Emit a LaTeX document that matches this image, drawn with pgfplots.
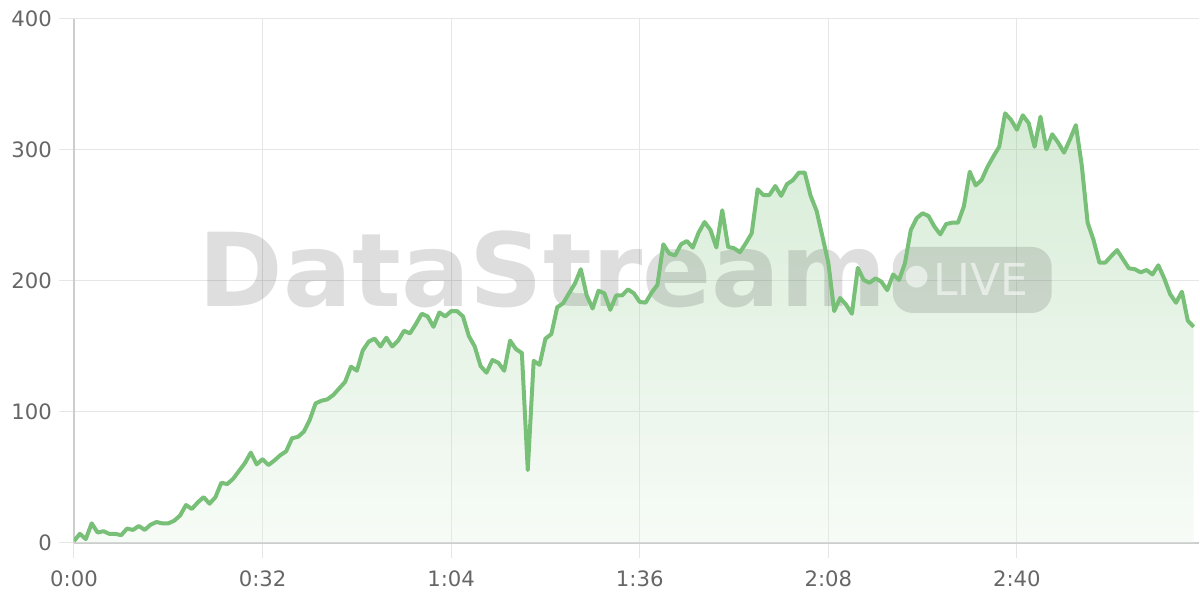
\documentclass[border=0pt]{standalone}
\usepackage{pgfplots}
\pgfplotsset{compat=1.18}
\usepackage{fontspec}
\setmainfont{DejaVu Sans}
\definecolor{linegreen}{RGB}{120,191,120}
\definecolor{gridc}{RGB}{230,230,230}
\definecolor{axisc}{RGB}{205,205,205}
\definecolor{tickc}{RGB}{102,102,102}
\pgfplotstableread{
t v
0 1.5
1 7
2 3
3 15
4 8
5 9
6 7
7 7
8 6
9 11
10 10
11 13
12 10
13 14
14 16
15 15
16 15
17 17
18 21
19 29
20 26
21 31
22 35
23 30
24 35
25 46
26 45
27 49
28 55
29 61
30 69
31 60
32 64
33 59.5
34 63
35 67
36 70
37 80
38 81
39 85
40 94
41 106.6
42 108.6
43 109.7
44 113
45 118
46 123
47 134.6
48 131.5
49 147
50 153.7
51 156
52 150
53 156.7
54 150
55 154.5
56 162
57 160
58 167
59 175
60 173
61 165
62 176
63 173
64 177
65 177
66 173
67 158
68 150
69 135
70 130
71 139.7
72 137.6
73 131.5
74 154.5
75 148
76 145
77 55.7
78 139
79 136
80 156
81 159.5
82 180
83 183
84 190.6
85 198
86 209
87 189
88 179
89 192.6
90 190.6
91 178
92 189
93 189
94 193.6
95 190.6
96 184
97 183.5
98 191
99 197
100 228
101 221
102 219.5
103 228
104 230.5
105 225.5
106 237
107 245
108 239
109 225.6
110 254
111 226
112 225
113 222
114 228.8
115 236.4
116 270
117 265.6
118 265.6
119 272.5
120 265
121 274
122 277
123 282.7
124 282.7
125 265
126 253.7
127 234
128 214
129 177
130 187
131 182
132 175
133 210
134 200.8
135 198.7
136 202
137 199.5
138 193
139 205
140 200.8
141 213.5
142 239
143 248
144 251.7
145 249.6
146 241.5
147 235.6
148 243.5
149 244.5
150 244.5
151 257
152 283.4
153 273
154 277
155 287
156 295
157 302.5
158 328
159 323
160 315.5
161 326.5
162 320.5
163 302.5
164 325.4
165 300.5
166 312
167 305.6
168 298
169 308
170 319
171 288.5
172 244.5
173 231.3
174 214
175 214
176 219
177 223.6
178 216.6
179 209.7
180 209
181 206.6
182 208.4
183 205
184 212
185 202
186 190
187 183.4
188 191.8
189 169.7
190 165
}\datatable
\begin{document}
\begin{tikzpicture}
\begin{axis}[
  scale only axis,
  width=562.5pt, height=262pt,
  xmin=0, xmax=190.9, ymin=0, ymax=400,
  axis lines=left,
  axis line style={-, draw=axisc, line width=0.75pt},
  xtick={0,32,64,96,128,160},
  xticklabels={0:00,0:32,1:04,1:36,2:08,2:40},
  ytick={0,100,200,300,400},
  tick align=outside,
  major tick length=7.5pt,
  tick style={draw=gridc, line width=0.5pt},
  grid=major,
  grid style={draw=gridc, line width=0.5pt},
  /pgf/number format/assume math mode=true,
  ticklabel style={font=\fontsize{10.6}{12}\selectfont, text=tickc},
  xticklabel style={yshift=-3pt},
  clip=true,
]
\addplot[draw=none, top color=linegreen, bottom color=linegreen!20!white, fill opacity=0.3] table[x=t,y=v]{\datatable} \closedcycle;
\node[anchor=base west, inner sep=0pt, text=black, text opacity=0.13, font=\fontsize{51}{51}\bfseries\selectfont] at (axis cs:21.1,180.4) {DataStream};
\fill[black, opacity=0.12, rounded corners=10pt] (axis cs:138.95,175.6) rectangle (axis cs:165.9,226);
\fill[white, opacity=0.55] (axis cs:142.97,203.3) circle[radius=5.5pt];
\node[anchor=base west, inner sep=0pt, text=white, text opacity=0.55, font=\fontsize{22}{22}\selectfont] at (axis cs:145.7,189.3) {LIVE};
\addplot[draw=linegreen, line width=2pt, line join=round, mark=none] table[x=t,y=v]{\datatable};
\end{axis}
\pgfresetboundingbox
\useasboundingbox ([xshift=-37pt,yshift=-28.5pt]current axis.south west) rectangle ([xshift=0.5pt,yshift=9.5pt]current axis.north east);
\end{tikzpicture}
\end{document}
